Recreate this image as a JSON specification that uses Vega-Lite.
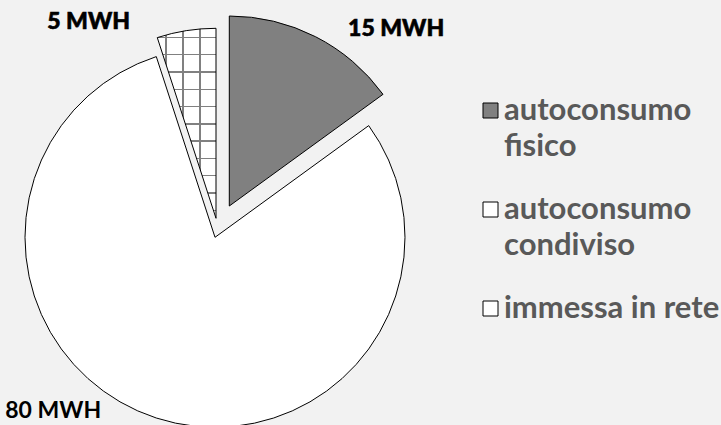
{
  "$schema": "https://vega.github.io/schema/vega-lite/v6.json",
  "width": 430,
  "height": 425,
  "autosize": {"type": "none"},
  "padding": {"left": 0, "top": 0, "right": 291, "bottom": 0},
  "background": "#f2f2f2",
  "config": {"view": {"stroke": null}, "font": "Lato"},
  "data": {
    "values": [
      {"categoria": "autoconsumo fisico", "valore": 15, "ordine": 1},
      {"categoria": "autoconsumo condiviso", "valore": 80, "ordine": 2},
      {"categoria": "immessa in rete", "valore": 5, "ordine": 3}
    ]
  },
  "transform": [
    {"stack": "valore", "groupby": [], "sort": [{"field": "ordine", "order": "ascending"}], "as": ["v0", "v1"]},
    {"calculate": "(datum.v0 + datum.v1) / 2", "as": "mid"},
    {"calculate": "datum.valore + ' MWH'", "as": "etichetta"}
  ],
  "layer": [
    {
      "transform": [{"filter": "datum.ordine == 1"}],
      "mark": {"type": "arc", "xOffset": 14.3, "yOffset": -6.5, "outerRadius": 190, "stroke": "#000000", "strokeWidth": 1},
      "encoding": {
        "theta": {"field": "v0", "type": "quantitative", "stack": null, "scale": {"domain": [0, 100]}},
        "theta2": {"field": "v1"},
        "color": {
          "field": "categoria",
          "type": "nominal",
          "scale": {"domain": ["autoconsumo fisico", "autoconsumo condiviso", "immessa in rete"], "range": ["#808080", "#ffffff", "#ffffff"]},
          "legend": {
            "orient": "none",
            "legendX": 475,
            "legendY": 95,
            "direction": "vertical",
            "title": null,
            "symbolType": "square",
            "symbolSize": 225,
            "symbolStrokeColor": "#000000",
            "symbolStrokeWidth": 1,
            "labelFont": "Lato",
            "labelFontSize": 31,
            "labelFontWeight": "bold",
            "labelColor": "#595959",
            "labelLimit": 0,
            "labelOffset": -2,
            "rowPadding": 31,
            "labelExpr": "datum.label == 'immessa in rete' ? datum.label : split(datum.label, ' ')",
            "encode": {
              "symbols": {
                "update": {
                  "fill": [
                    {"test": "datum.value === 'immessa in rete'", "value": {"gradient": "linear", "x1": 0, "y1": 0, "x2": 1, "y2": 0, "stops": [
                      {"offset": 0, "color": "#ffffff"}, {"offset": 0.6, "color": "#ffffff"}, {"offset": 0.6, "color": "#000000"}, {"offset": 0.68, "color": "#000000"}, {"offset": 0.68, "color": "#ffffff"}, {"offset": 1, "color": "#ffffff"}]}},
                    {"scale": "color", "field": "value"}
                  ],
                  "stroke": {"value": "#000000"}
                }
              },
              "labels": {"update": {"lineHeight": {"value": 36}}}
            }
          }
        }
      }
    },
    {
      "transform": [{"filter": "datum.ordine == 2"}],
      "mark": {"type": "arc", "xOffset": 0, "yOffset": 24.8, "outerRadius": 190, "stroke": "#000000", "strokeWidth": 1},
      "encoding": {
        "theta": {"field": "v0", "type": "quantitative", "stack": null, "scale": {"domain": [0, 100]}},
        "theta2": {"field": "v1"},
        "color": {"field": "categoria", "type": "nominal"}
      }
    },
    {
      "transform": [{"filter": "datum.ordine == 3"}],
      "mark": {
        "type": "arc", "xOffset": 1, "yOffset": 5.8, "outerRadius": 190,
        "fill": {"gradient": "linear", "x1": 0, "y1": 0, "x2": 0, "y2": 1, "stops": [
          {"offset": 0, "color": "#ffffff"},
          {"offset": 0.044, "color": "#ffffff"}, {"offset": 0.044, "color": "#808080"}, {"offset": 0.052, "color": "#808080"}, {"offset": 0.052, "color": "#ffffff"},
          {"offset": 0.135, "color": "#ffffff"}, {"offset": 0.135, "color": "#808080"}, {"offset": 0.143, "color": "#808080"}, {"offset": 0.143, "color": "#ffffff"},
          {"offset": 0.226, "color": "#ffffff"}, {"offset": 0.226, "color": "#808080"}, {"offset": 0.234, "color": "#808080"}, {"offset": 0.234, "color": "#ffffff"},
          {"offset": 0.317, "color": "#ffffff"}, {"offset": 0.317, "color": "#808080"}, {"offset": 0.325, "color": "#808080"}, {"offset": 0.325, "color": "#ffffff"},
          {"offset": 0.408, "color": "#ffffff"}, {"offset": 0.408, "color": "#808080"}, {"offset": 0.416, "color": "#808080"}, {"offset": 0.416, "color": "#ffffff"},
          {"offset": 0.499, "color": "#ffffff"}, {"offset": 0.499, "color": "#808080"}, {"offset": 0.507, "color": "#808080"}, {"offset": 0.507, "color": "#ffffff"},
          {"offset": 0.590, "color": "#ffffff"}, {"offset": 0.590, "color": "#808080"}, {"offset": 0.598, "color": "#808080"}, {"offset": 0.598, "color": "#ffffff"},
          {"offset": 0.681, "color": "#ffffff"}, {"offset": 0.681, "color": "#808080"}, {"offset": 0.689, "color": "#808080"}, {"offset": 0.689, "color": "#ffffff"},
          {"offset": 0.772, "color": "#ffffff"}, {"offset": 0.772, "color": "#808080"}, {"offset": 0.780, "color": "#808080"}, {"offset": 0.780, "color": "#ffffff"},
          {"offset": 0.863, "color": "#ffffff"}, {"offset": 0.863, "color": "#808080"}, {"offset": 0.871, "color": "#808080"}, {"offset": 0.871, "color": "#ffffff"},
          {"offset": 0.954, "color": "#ffffff"}, {"offset": 0.954, "color": "#808080"}, {"offset": 0.962, "color": "#808080"}, {"offset": 0.962, "color": "#ffffff"},
          {"offset": 1, "color": "#ffffff"}
        ]},
        "strokeWidth": 0
      },
      "encoding": {
        "theta": {"field": "v0", "type": "quantitative", "stack": null, "scale": {"domain": [0, 100]}},
        "theta2": {"field": "v1"}
      }
    },
    {
      "transform": [{"filter": "datum.ordine == 3"}],
      "mark": {
        "type": "arc", "xOffset": 1, "yOffset": 5.8, "outerRadius": 190,
        "fill": {"gradient": "linear", "x1": 0, "y1": 0, "x2": 1, "y2": 0, "stops": [
          {"offset": 0, "color": "rgba(128,128,128,0)"},
          {"offset": 0.131, "color": "rgba(128,128,128,0)"}, {"offset": 0.131, "color": "#808080"}, {"offset": 0.157, "color": "#808080"}, {"offset": 0.157, "color": "rgba(128,128,128,0)"},
          {"offset": 0.422, "color": "rgba(128,128,128,0)"}, {"offset": 0.422, "color": "#808080"}, {"offset": 0.448, "color": "#808080"}, {"offset": 0.448, "color": "rgba(128,128,128,0)"},
          {"offset": 0.713, "color": "rgba(128,128,128,0)"}, {"offset": 0.713, "color": "#808080"}, {"offset": 0.739, "color": "#808080"}, {"offset": 0.739, "color": "rgba(128,128,128,0)"},
          {"offset": 1, "color": "rgba(128,128,128,0)"}
        ]},
        "stroke": "#000000",
        "strokeWidth": 1
      },
      "encoding": {
        "theta": {"field": "v0", "type": "quantitative", "stack": null, "scale": {"domain": [0, 100]}},
        "theta2": {"field": "v1"}
      }
    },
    {
      "transform": [{"filter": "datum.ordine == 1"}],
      "mark": {"type": "text", "xOffset": 14.3, "yOffset": -6.5, "radius": 200, "dx": 76, "dy": 1, "font": "Lato", "fontSize": 23, "fontWeight": 900, "fill": "#000000", "stroke": "#000000", "strokeWidth": 0.6, "align": "center", "baseline": "middle"},
      "encoding": {
        "theta": {"field": "mid", "type": "quantitative", "stack": null, "scale": {"domain": [0, 100]}},
        "text": {"field": "etichetta"}
      }
    },
    {
      "transform": [{"filter": "datum.ordine == 2"}],
      "mark": {"type": "text", "xOffset": 0, "yOffset": 24.8, "radius": 200, "dx": -100, "dy": -17, "font": "Lato", "fontSize": 23, "fontWeight": "bold", "fill": "#000000", "align": "center", "baseline": "middle"},
      "encoding": {
        "theta": {"field": "mid", "type": "quantitative", "stack": null, "scale": {"domain": [0, 100]}},
        "text": {"field": "etichetta"}
      }
    },
    {
      "transform": [{"filter": "datum.ordine == 3"}],
      "mark": {"type": "text", "xOffset": 1, "yOffset": 5.8, "radius": 200, "dx": -96, "dy": 1, "font": "Lato", "fontSize": 23, "fontWeight": 900, "fill": "#000000", "stroke": "#000000", "strokeWidth": 0.6, "align": "center", "baseline": "middle"},
      "encoding": {
        "theta": {"field": "mid", "type": "quantitative", "stack": null, "scale": {"domain": [0, 100]}},
        "text": {"field": "etichetta"}
      }
    }
  ]
}
